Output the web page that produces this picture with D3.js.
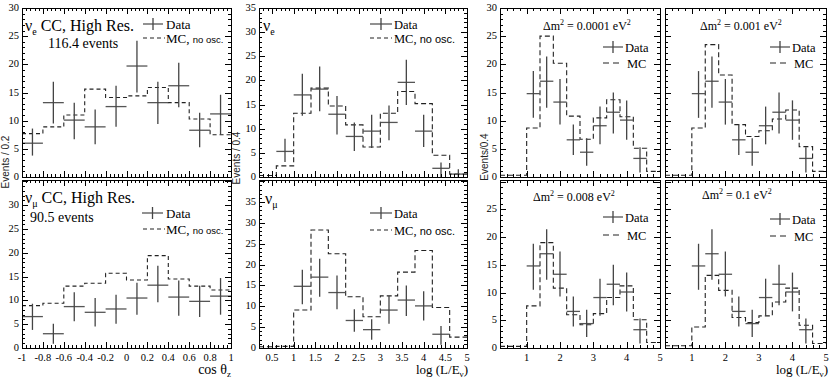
<!DOCTYPE html>
<html><head><meta charset="utf-8">
<script src="https://cdn.jsdelivr.net/npm/d3@7"></script>
<style>body{margin:0;background:#fff}svg{display:block}</style>
</head><body>
<svg id="c" width="830" height="382"></svg>
<script>
// ---------- data ----------
const cosCenters = [-0.9,-0.7,-0.5,-0.3,-0.1,0.1,0.3,0.5,0.7,0.9];
const nueCosData = [6.0,13.2,10.1,8.9,12.5,19.7,13.2,16.2,8.3,11.2];
const nueCosHi   = [8.6,16.9,13.2,12.0,16.2,24.2,16.9,20.3,11.4,14.6];
const nueCosLo   = [3.8,9.5,6.7,5.8,8.9,15.0,9.4,12.4,5.3,7.5];
const nueCosMC   = [7.7,8.9,11.0,15.6,14.1,14.4,15.9,13.2,10.3,7.5];

const numuCosData = [6.6,3.0,8.7,7.5,8.2,10.5,13.2,10.7,9.8,10.9];
const numuCosHi   = [9.3,5.1,11.7,10.5,11.2,13.7,17.3,14.2,13.1,14.7];
const numuCosLo   = [3.8,0.9,5.6,4.5,5.1,7.0,9.6,6.8,6.5,7.0];
const numuCosMC   = [8.9,9.4,13.0,13.6,15.7,14.3,19.4,14.5,13.0,12.2];

const logCenters = [0.4,0.8,1.2,1.6,2.0,2.4,2.8,3.2,3.6,4.0,4.4,4.8];
const nueLogData = [null,5.3,17.0,18.2,13.0,8.4,9.5,11.3,19.6,9.5,1.8,0.6];
const nueLogHi   = [null,7.9,21.4,22.9,16.8,11.3,12.9,14.8,24.3,12.9,3.0,1.6];
const nueLogLo   = [null,3.1,12.7,13.6,8.8,5.4,6.0,7.6,14.9,6.2,0.0,0.0];
const nueLogMC   = [0.3,2.3,13.2,18.4,14.7,10.8,6.2,13.2,17.7,15.2,4.5,0.6];

const numuLogData = [null,null,14.8,17.0,13.3,6.6,4.4,9.1,11.5,10.1,3.3,null];
const numuLogHi   = [null,null,18.8,21.4,17.4,9.3,6.9,12.5,15.0,13.6,5.3,null];
const numuLogLo   = [null,null,10.5,12.3,9.3,3.9,2.0,5.8,7.7,6.6,0.8,null];
const numuLogMC   = [0.3,0.4,9.1,28.3,22.6,12.3,7.5,12.5,18.2,23.4,9.7,2.6];

const mcDm0001 = [0.3,0.3,8.7,25.0,20.2,10.8,6.7,10.5,13.7,10.7,5.1,1.0];
const mcDm001  = [0.3,0.3,8.7,23.5,18.1,9.3,7.2,8.2,10.3,11.9,5.4,1.0];
const mcDm008  = [0.3,0.3,7.6,19.0,10.8,6.0,4.2,6.2,9.1,11.2,5.1,1.0];
const mcDm01   = [0.4,0.4,3.8,13.1,10.4,5.5,4.6,5.8,8.3,10.8,4.1,0.8];

const cosTicks = [-1,-0.8,-0.6,-0.4,-0.2,0,0.2,0.4,0.6,0.8,1];
const logTicksMid = [0.5,1,1.5,2,2.5,3,3.5,4,4.5,5];
const logTicksRight = [1,2,3,4,5];
const dmLabels = ["0.0001","0.001","0.008","0.1"];

// ---------- drawing ----------
const svg = d3.select('#c');
const SERIF = "'Liberation Serif','Times New Roman',serif";
const SANS = "'Liberation Sans',Arial,sans-serif";

function rangeStep(a,b,s){const r=[];for(let v=a;v<=b+1e-9;v+=s)r.push(Math.round(v*1000)/1000);return r;}

const panels = [
 {x0:22,x1:231,y0:8,y1:177,xd:[-1,1],yd:[0,30],c:cosCenters,bw:0.2,d:nueCosData,hi:nueCosHi,lo:nueCosLo,mc:nueCosMC,
  xmaj:cosTicks,xmin:0.04,showX:false,yLab:30,showY:true,dash:"4,3"},
 {x0:22,x1:231,y0:180,y1:348,xd:[-1,1],yd:[0,35.3],c:cosCenters,bw:0.2,d:numuCosData,hi:numuCosHi,lo:numuCosLo,mc:numuCosMC,
  xmaj:cosTicks,xmin:0.04,showX:true,yLab:30,showY:true,dash:"4,3"},
 {x0:259,x1:467,y0:8,y1:177,xd:[0.2,5],yd:[0,35],c:logCenters,bw:0.4,d:nueLogData,hi:nueLogHi,lo:nueLogLo,mc:nueLogMC,
  xmaj:logTicksMid,xmin:0.1,showX:false,yLab:35,showY:true,dash:"5,3"},
 {x0:259,x1:467,y0:180,y1:348,xd:[0.2,5],yd:[0,40.3],c:logCenters,bw:0.4,d:numuLogData,hi:numuLogHi,lo:numuLogLo,mc:numuLogMC,
  xmaj:logTicksMid,xmin:0.1,showX:true,yLab:35,showY:true,dash:"5,3"},
 {x0:500,x1:660,y0:8,y1:177,xd:[0.2,5],yd:[0,30],c:logCenters,bw:0.4,d:numuLogData,hi:numuLogHi,lo:numuLogLo,mc:mcDm0001,
  xmaj:logTicksRight,xmin:0.2,showX:false,yLab:30,showY:true,dash:"5,3"},
 {x0:665,x1:826,y0:8,y1:177,xd:[0.2,5],yd:[0,30],c:logCenters,bw:0.4,d:numuLogData,hi:numuLogHi,lo:numuLogLo,mc:mcDm001,
  xmaj:logTicksRight,xmin:0.2,showX:false,yLab:30,showY:false,dash:"5,3"},
 {x0:500,x1:660,y0:180,y1:348,xd:[0.2,5],yd:[0,30.3],c:logCenters,bw:0.4,d:numuLogData,hi:numuLogHi,lo:numuLogLo,mc:mcDm008,
  xmaj:logTicksRight,xmin:0.2,showX:true,yLab:25,showY:true,dash:"5,3"},
 {x0:665,x1:826,y0:180,y1:348,xd:[0.2,5],yd:[0,30.3],c:logCenters,bw:0.4,d:numuLogData,hi:numuLogHi,lo:numuLogLo,mc:mcDm01,
  xmaj:logTicksRight,xmin:0.2,showX:true,yLab:25,showY:false,dash:"5,3"}
];

panels.forEach(p=>{
  const x = d3.scaleLinear().domain(p.xd).range([p.x0,p.x1]);
  const y = d3.scaleLinear().domain(p.yd).range([p.y1,p.y0]);
  const g = svg.append('g');
  // MC histogram
  const pts=[];
  p.mc.forEach((v,i)=>{ if(v==null)return; const c=p.c[i];
    pts.push([x(c-p.bw/2),y(v)],[x(c+p.bw/2),y(v)]); });
  g.append('path').attr('d',d3.line()(pts)).attr('fill','none')
    .attr('stroke','#222').attr('stroke-width',1.1).attr('stroke-dasharray',p.dash);
  // data crosses
  p.d.forEach((v,i)=>{ if(v==null)return; const c=p.c[i];
    g.append('line').attr('x1',x(c-p.bw/2)).attr('x2',x(c+p.bw/2)).attr('y1',y(v)).attr('y2',y(v))
      .attr('stroke','#555').attr('stroke-width',1.3);
    g.append('line').attr('x1',x(c)).attr('x2',x(c)).attr('y1',y(p.lo[i])).attr('y2',y(p.hi[i]))
      .attr('stroke','#444').attr('stroke-width',1.3);
  });
  // frame
  const fg = svg.append('g').attr('shape-rendering','crispEdges').attr('stroke','#000').attr('stroke-width',1);
  fg.append('rect').attr('x',p.x0+0.5).attr('y',p.y0+0.5).attr('width',p.x1-p.x0).attr('height',p.y1-p.y0).attr('fill','none');
  // x ticks
  rangeStep(p.xd[0],p.xd[1],p.xmin).forEach(v=>{ const X=Math.round(x(v))+0.5; const maj=p.xmaj.some(t=>Math.abs(t-v)<1e-6); const L=maj?6:3;
    fg.append('line').attr('x1',X).attr('x2',X).attr('y1',p.y1).attr('y2',p.y1-L);
    fg.append('line').attr('x1',X).attr('x2',X).attr('y1',p.y0).attr('y2',p.y0+L);
  });
  // y ticks
  rangeStep(0,p.yd[1],1).forEach(v=>{ const Y=Math.round(y(v))+0.5; const maj=(v%5===0); const L=maj?6:3;
    fg.append('line').attr('x1',p.x0).attr('x2',p.x0+L).attr('y1',Y).attr('y2',Y);
    fg.append('line').attr('x1',p.x1).attr('x2',p.x1-L).attr('y1',Y).attr('y2',Y);
  });
  // labels
  if(p.showY){
    rangeStep(0,p.yLab,5).forEach(v=>{
      svg.append('text').attr('x',p.x0-3).attr('y',y(v)+3).attr('text-anchor','end')
        .attr('font-family',SERIF).attr('font-size',10.5).text(v);
    });
  }
  if(p.showX){
    p.xmaj.forEach(v=>{
      svg.append('text').attr('x',x(v)).attr('y',p.y1+13).attr('text-anchor','middle')
        .attr('font-family',SERIF).attr('font-size',10.5).text(String(v));
    });
  }
});

// ---------- annotations ----------
function txt(x,y,size,fam,parts,anchor){
  const t=svg.append('text').attr('x',x).attr('y',y).attr('font-family',fam).attr('font-size',size);
  if(anchor)t.attr('text-anchor',anchor);
  parts.forEach(pt=>{ const s=t.append('tspan').text(pt.t);
    if(pt.s)s.attr('font-size',pt.s); if(pt.dy)s.attr('dy',pt.dy); if(pt.f)s.attr('font-family',pt.f); });
  return t;
}
function legCross(x1,x2,yc){
  svg.append('line').attr('x1',x1).attr('x2',x2).attr('y1',yc).attr('y2',yc).attr('stroke','#555').attr('stroke-width',1.3);
  const xm=(x1+x2)/2;
  svg.append('line').attr('x1',xm).attr('x2',xm).attr('y1',yc-6).attr('y2',yc+6).attr('stroke','#444').attr('stroke-width',1.3);
}
function legDash(x1,x2,yc,dash){
  svg.append('line').attr('x1',x1).attr('x2',x2).attr('y1',yc).attr('y2',yc).attr('stroke','#222')
    .attr('stroke-width',1.1).attr('stroke-dasharray',dash);
}

// panel 1
txt(25,31,16,SERIF,[{t:'ν'},{t:'e',s:10,dy:4},{t:' CC, High Res.',dy:-4}]);
txt(48,48,14,SERIF,[{t:'116.4 events'}]);
legCross(143,163,24); txt(166,29,13,SERIF,[{t:'Data'}]);
legDash(143,165,38,"4,3"); txt(166,43,13,SERIF,[{t:'MC, '},{t:'no osc.',s:9.5,f:SANS}]);
// panel 2
txt(25,203,16,SERIF,[{t:'ν'},{t:'μ',s:10,dy:4},{t:' CC, High Res.',dy:-4}]);
txt(30,222,14,SERIF,[{t:'90.5 events'}]);
legCross(142,163,213); txt(166,218,13,SERIF,[{t:'Data'}]);
legDash(143,165,229,"4,3"); txt(166,234,13,SERIF,[{t:'MC, '},{t:'no osc.',s:9.5,f:SANS}]);
// panel 3
txt(263,31,16,SERIF,[{t:'ν'},{t:'e',s:10,dy:4}]);
legCross(370,392,24); txt(394,29,12.5,SERIF,[{t:'Data'}]);
legDash(370,392,38,"4,3"); txt(394,43,12.5,SERIF,[{t:'MC, '},{t:'no osc.',s:11,f:SANS}]);
// panel 4
txt(265,204,16,SERIF,[{t:'ν'},{t:'μ',s:10,dy:4}]);
legCross(370,392,213); txt(394,218,12.5,SERIF,[{t:'Data'}]);
legDash(370,392,230,"4,3"); txt(394,235,12.5,SERIF,[{t:'MC, '},{t:'no osc.',s:11,f:SANS}]);
// right panels
const dmPos = [[543,30,603,47,63],[700,30,770,47,63],[533,201,603,217,235],[702,199,770,219,236]];
dmPos.forEach((q,i)=>{
  txt(q[0],q[1],12,SERIF,[{t:'Δm'},{t:'2',s:8,dy:-5},{t:' = '+dmLabels[i]+' eV',dy:5},{t:'2',s:8,dy:-5}]);
  legCross(q[2],q[2]+20,q[3]); txt(q[2]+22,q[3]+5,12.5,SERIF,[{t:'Data'}]);
  legDash(q[2],q[2]+19,q[4],"6,4"); txt(q[2]+24,q[4]+5,12.5,SERIF,[{t:'MC'}]);
});

// axis titles
txt(231,374,14,SERIF,[{t:'cos θ'},{t:'z',s:9,dy:3}],'end');
txt(468,374,13,SERIF,[{t:'log (L/E'},{t:'ν',s:9,dy:3},{t:')',dy:-3}],'end');
txt(828,374,13,SERIF,[{t:'log (L/E'},{t:'ν',s:9,dy:3},{t:')',dy:-3}],'end');

// y titles
[[9,162,'Events / 0.2'],[240,158,'Events / 0.4'],[488,157,'Events/0.4']].forEach(q=>{
  svg.append('text').attr('transform',`translate(${q[0]},${q[1]}) rotate(-90)`).attr('text-anchor','middle')
    .attr('font-family',SANS).attr('font-size',10).attr('fill','#222').text(q[2]);
});
</script>
</body></html>
